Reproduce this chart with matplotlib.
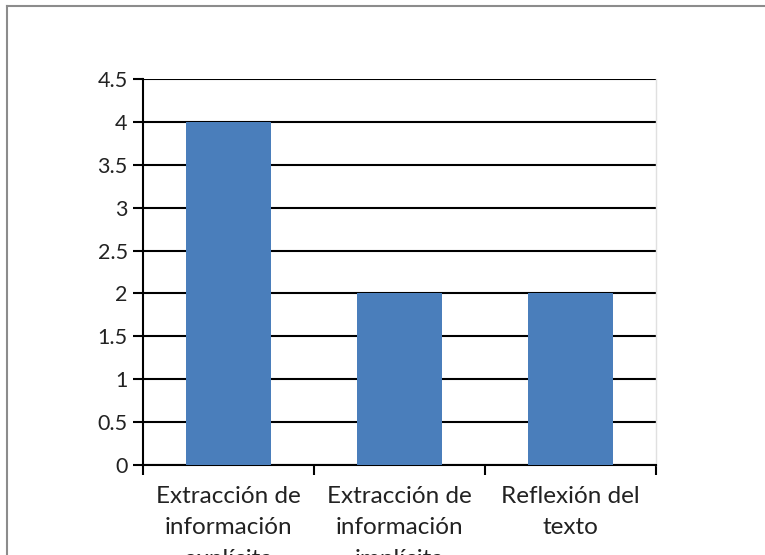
import matplotlib
matplotlib.use("Agg")
import matplotlib.pyplot as plt
from matplotlib.lines import Line2D

# categories and values
categories = ["Extracción de\ninformación\nexplícita",
              "Extracción de\ninformación\nimplícita",
              "Reflexión del\ntexto"]
values = [4, 2, 2]
yticks = [0, 0.5, 1, 1.5, 2, 2.5, 3, 3.5, 4, 4.5]
ytick_labels = ["0", "0.5", "1", "1.5", "2", "2.5", "3", "3.5", "4", "4.5"]

W, H = 765, 555
fig = plt.figure(figsize=(W / 100, H / 100), dpi=100)
plt.rcParams['font.family'] = ['Lato', 'DejaVu Sans']

ax = fig.add_axes([143 / W, (H - 465) / H, 513 / W, (465 - 79) / H])
x = list(range(len(categories)))
ax.bar(x, values, width=0.5, color='#4a7ebb', zorder=3)

ax.set_xlim(-0.5, 2.5)
ax.set_ylim(0, 4.5)
ax.set_yticks(yticks)
ax.set_yticklabels(ytick_labels, fontsize=15.5, color='#222222')
ax.yaxis.grid(True, color='black', linewidth=1.5, zorder=0)
ax.set_axisbelow(True)

ax.set_xticks(x)
ax.set_xticklabels(categories, fontsize=17.5, color='#222222', linespacing=1.62)
ax.set_xticks([-0.5, 0.5, 1.5, 2.5], minor=True)
ax.tick_params(axis='x', which='major', length=0, pad=15)
ax.tick_params(axis='x', which='minor', length=7, width=1.5, direction='out')
ax.tick_params(axis='y', length=7, width=1.5, pad=4)

ax.spines['left'].set_linewidth(1.5)
ax.spines['bottom'].set_linewidth(1.5)
ax.spines['top'].set_visible(False)
ax.spines['right'].set_color('#e0e0e0')
ax.spines['right'].set_linewidth(1)

# outer chart frame (only the top and left edges are visible)
fig.add_artist(Line2D([7 / W, 1], [1 - 5.5 / H, 1 - 5.5 / H], color='#8c8c8c', linewidth=1.5))
fig.add_artist(Line2D([7 / W, 7 / W], [0, 1 - 5.5 / H], color='#8c8c8c', linewidth=1.5))

fig.savefig('out.png', dpi=100)
